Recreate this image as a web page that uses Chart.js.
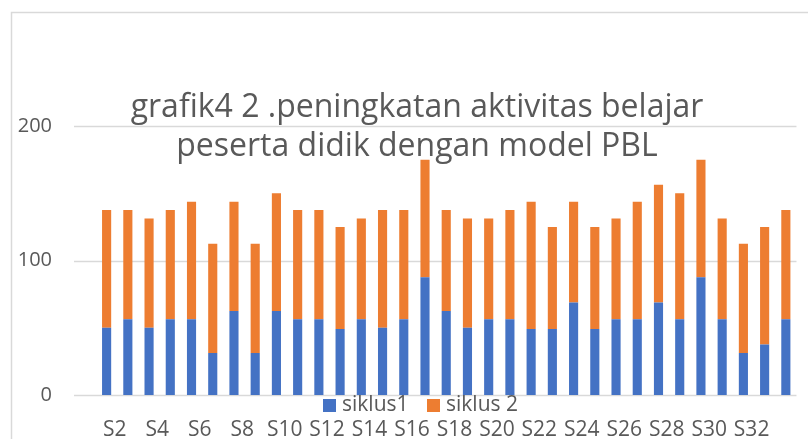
<!DOCTYPE html>
<html>
<head>
<meta charset="utf-8">
<script src="https://cdn.jsdelivr.net/npm/chart.js@4/dist/chart.umd.min.js"></script>
<style>
html,body{margin:0;padding:0;background:#fff;}
#wrap{position:relative;width:808px;height:439px;}
</style>
</head>
<body>
<div id="wrap"><canvas id="c" width="808" height="439"></canvas></div>
<script>
const categories = ["S1","S2","S3","S4","S5","S6","S7","S8","S9","S10","S11","S12","S13","S14","S15","S16","S17","S18","S19","S20","S21","S22","S23","S24","S25","S26","S27","S28","S29","S30","S31","S32","S33"];
const siklus1 = [50,56.25,50,56.25,56.25,31.25,62.5,31.25,62.5,56.25,56.25,49,56.25,50,56.25,87.5,62.5,50,56.25,56.25,49,49,68.75,49,56.25,56.25,68.75,56.25,87.5,56.25,31.25,37.5,56.25];
const siklus2 = [87.5,81.25,81.25,81.25,87.5,81.25,81.25,81.25,87.5,81.25,81.25,76,75,87.5,81.25,87.5,75,81.25,75,81.25,94.75,76,75,76,75,87.5,87.5,93.75,87.5,75,81.25,87.5,81.25];
const seriesNames = ["siklus1","siklus 2"];
const yTicks = [0,100,200];
const titleLines = ["grafik4 2 .peningkatan aktivitas belajar","peserta didik dengan model PBL"];

const TEXT = '#595959';
const GRID = '#D9D9D9';
const FONT = '"Open Sans", sans-serif';

const decor = {
  id: 'decor',
  beforeDatasetsDraw(chart) {
    const ctx = chart.ctx, y = chart.scales.y, a = chart.chartArea;
    ctx.save();
    ctx.strokeStyle = GRID; ctx.lineWidth = 1.5;
    ctx.strokeRect(11.5, 12.5, 830, 460);
    yTicks.forEach(v => {
      const py = Math.round(y.getPixelForValue(v)) + 0.5;
      ctx.beginPath(); ctx.moveTo(74, py); ctx.lineTo(a.right, py); ctx.stroke();
    });
    ctx.restore();
  },
  afterDraw(chart) {
    const ctx = chart.ctx;
    ctx.save();
    ctx.fillStyle = TEXT;
    ctx.font = '32px ' + FONT;
    ctx.textAlign = 'center';
    ctx.textBaseline = 'alphabetic';
    ctx.fillText(titleLines[0], 417, 117);
    ctx.fillText(titleLines[1], 417, 156);
    const xs = [323, 427];
    ctx.font = '21px ' + FONT;
    ctx.textAlign = 'left';
    ctx.textBaseline = 'middle';
    chart.data.datasets.forEach((ds, i) => {
      ctx.fillStyle = ds.backgroundColor;
      ctx.fillRect(xs[i], 399, 13, 13);
      ctx.fillStyle = TEXT;
      ctx.fillText(ds.label, xs[i] + 19, 405);
    });
    ctx.restore();
  }
};

new Chart(document.getElementById('c'), {
  type: 'bar',
  data: {
    labels: categories,
    datasets: [
      { label: seriesNames[0], data: siklus1, backgroundColor: '#4472C4', barPercentage: 0.43, categoryPercentage: 1 },
      { label: seriesNames[1], data: siklus2, backgroundColor: '#ED7D31', barPercentage: 0.43, categoryPercentage: 1 }
    ]
  },
  options: {
    responsive: false,
    animation: false,
    devicePixelRatio: 1,
    layout: { padding: { top: 126, right: 10, left: 0, bottom: 0 } },
    plugins: { legend: { display: false }, title: { display: false }, tooltip: { enabled: false } },
    scales: {
      x: {
        stacked: true,
        grid: { display: false, drawTicks: false },
        border: { display: false },
        afterFit: s => { s.height = 44; },
        ticks: {
          autoSkip: false, maxRotation: 0, minRotation: 0,
          padding: 22, labelOffset: -13,
          color: TEXT, font: { family: FONT, size: 21 },
          callback: function(v, i) { return i % 2 === 1 ? this.getLabelForValue(v) : ''; }
        }
      },
      y: {
        stacked: true,
        min: 0, max: 200,
        afterFit: s => { s.width = 96; s.paddingTop = 0; s.paddingBottom = 0; },
        afterBuildTicks: s => { s.ticks = yTicks.map(v => ({ value: v })); },
        grid: { display: false, drawTicks: false },
        border: { display: false },
        ticks: { padding: 44, color: TEXT, font: { family: FONT, size: 20 } }
      }
    }
  },
  plugins: [decor]
});
</script>
</body>
</html>
